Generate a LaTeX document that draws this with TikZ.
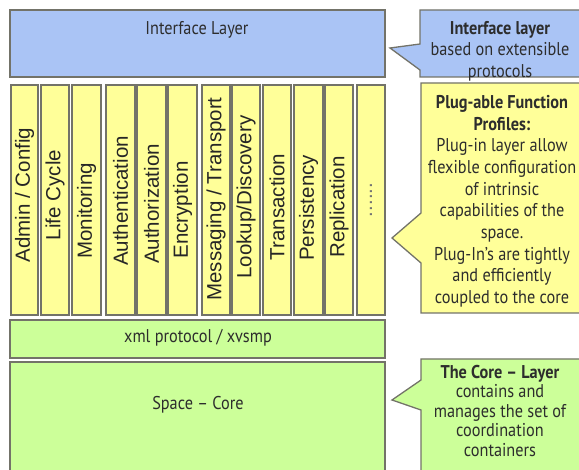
\documentclass[tikz,border=0pt]{standalone}
\usepackage{fontspec}
\setmainfont{Liberation Sans}
\newfontfamily\callfont[FakeStretch=0.88,Ligatures=TeX]{PT Sans}
\definecolor{ifblue}{RGB}{170,196,245}
\definecolor{plugyel}{RGB}{255,255,153}
\definecolor{coregreen}{RGB}{204,255,153}
\definecolor{edgegray}{RGB}{115,115,105}
\definecolor{txtgray}{RGB}{45,45,45}
\begin{document}
\begin{tikzpicture}[x=1pt,y=-1pt,
  layerbox/.style={draw=edgegray, line width=1.3pt, anchor=north west, inner sep=0pt},
  colbox/.style={draw=edgegray, line width=1.3pt, fill=plugyel},
  collabel/.style={rotate=90, font=\fontsize{20.5}{24}\selectfont, text=black!85, inner sep=0pt},
  laylabel/.style={font=\callfont\fontsize{18.5}{21.7}\selectfont, text=txtgray, inner sep=0pt},
  callshape/.style={draw=edgegray, line width=1.3pt, line join=miter},
  calltext/.style={font=\callfont\fontsize{18.5}{21.7}\selectfont, text=txtgray, align=center, inner sep=0pt, anchor=north}
]
\useasboundingbox (0,0) rectangle (579,470);
\begin{scope}
\clip (0,0) rectangle (579,470);
% layers
\path[layerbox, fill=ifblue] (10,10) rectangle (385,77);
\node[laylabel] (iflabel) at (197,30) {Interface Layer};
\path[layerbox, fill=coregreen] (10,320) rectangle (385,358);
\node[laylabel] (xmllabel) at (198,338) {xml protocol / xvsmp};
\path[layerbox, fill=coregreen] (10,362) rectangle (385,490);
\node[laylabel] (corelabel) at (198,405) {Space – Core};
% columns
\path[colbox] (11,85) rectangle (38,315);
\path[colbox] (41,85) rectangle (69,315);
\path[colbox] (72,85) rectangle (101,315);
\path[colbox] (106,85) rectangle (135,315);
\path[colbox] (137,85) rectangle (166,315);
\path[colbox] (168,85) rectangle (197,315);
\path[colbox] (202,85) rectangle (230,315);
\path[colbox] (232,85) rectangle (260,315);
\path[colbox] (263,85) rectangle (291,315);
\path[colbox] (294,85) rectangle (323,315);
\path[colbox] (325,85) rectangle (353,315);
\path[colbox] (357,85) rectangle (385,315);
\node[collabel] (c1) at (24.5,195) {Admin / Config};
\node[collabel] (c2) at (55,195) {Life Cycle};
\node[collabel] (c3) at (86.5,211) {Monitoring};
\node[collabel] (c4) at (120.5,201) {Authentication};
\node[collabel] (c5) at (151.5,204) {Authorization};
\node[collabel] (c6) at (182.5,210) {Encryption};
\node[collabel] (c7) at (216,199) {Messaging / Transport};
\node[collabel] (c8) at (246,197) {Lookup/Discovery};
\node[collabel] (c9) at (277,207) {Transaction};
\node[collabel] (c10) at (308.5,208) {Persistency};
\node[collabel] (c11) at (339,207) {Replication};
\node[collabel, text=black!55] (c12) at (371,200) {......};
% callouts
\path[callshape, fill=ifblue] (420,10) -- (600,10) -- (600,77) -- (420,77) -- (420,70) -- (390,48) -- (420,44) -- cycle;
\node[calltext] (ifnote) at (500,21) {\textbf{Interface layer}\\based on extensible\\protocols};
\path[callshape, fill=plugyel] (421,83) -- (600,83) -- (600,313) -- (421,313) -- (421,263) -- (392,238) -- (421,213) -- cycle;
\node[calltext] (plugnote) at (502,95) {\textbf{Plug-able Function}\\\textbf{Profiles:}\\Plug-in layer allow\\flexible configuration\\of intrinsic\\capabilities of the\\space.\\Plug-In's are tightly\\and efficiently\\coupled to the core};
\path[callshape, fill=coregreen] (421,359) -- (600,359) -- (600,490) -- (421,490) -- (421,410) -- (392,400) -- (421,380) -- cycle;
\node[calltext, font=\callfont\fontsize{18.5}{19.5}\selectfont] (corenote) at (500,365) {\textbf{The Core – Layer}\\contains and\\manages the set of\\coordination\\containers};
\end{scope}
\end{tikzpicture}
\end{document}
